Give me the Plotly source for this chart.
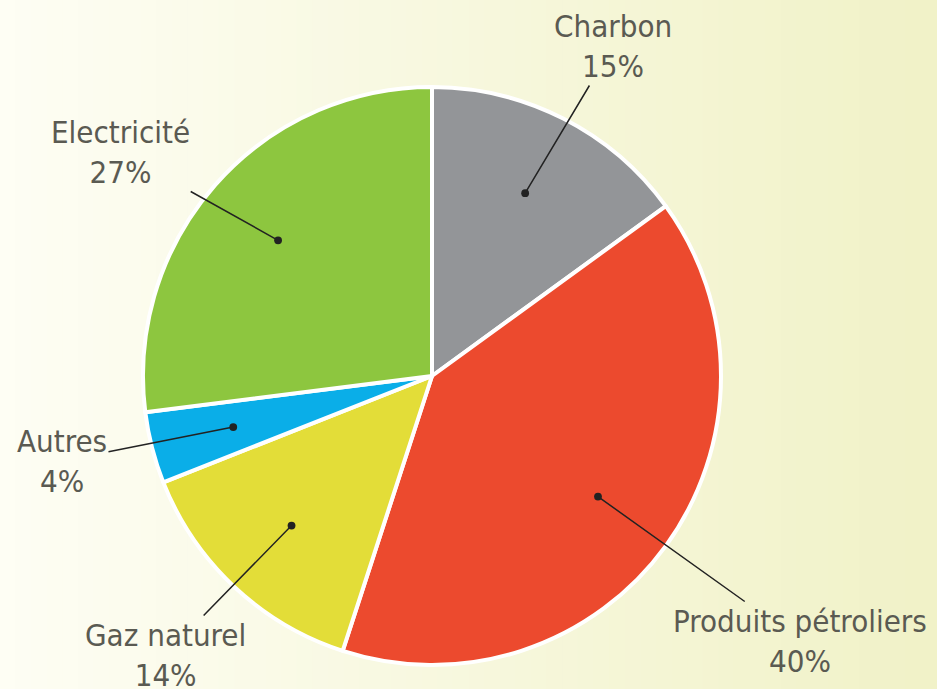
import numpy as np
import plotly.graph_objects as go

W, H = 937, 689

labels = ["Charbon", "Produits pétroliers", "Gaz naturel", "Autres", "Electricité"]
values = [15, 40, 14, 4, 27]
colors = ["#939598", "#ec4a2e", "#e3dd38", "#0aaee8", "#8dc63f"]

# label text centres (pixel layout positions)
label_x = [613, 800, 165, 62, 120]
label_y = [46, 641, 655, 461, 152]

# pie geometry (pixels)
cx, cy, R = 432, 376, 289
dot_frac = 0.71

fig = go.Figure()

fig.add_trace(go.Pie(
    labels=labels, values=values, sort=False, direction="clockwise", rotation=0,
    marker=dict(colors=colors, line=dict(color="white", width=4)),
    textinfo="none", hoverinfo="label+percent", showlegend=False,
    domain=dict(x=[(cx - R) / W, (cx + R) / W], y=[(H - cy - R) / H, (H - cy + R) / H]),
))

vals = np.array(values, dtype=float)
cum = np.cumsum(vals) - vals / 2
mid = cum / vals.sum() * 2 * np.pi
dot_x = cx + dot_frac * R * np.sin(mid)
dot_y = cy - dot_frac * R * np.cos(mid)

for lab, v, dx, dy, lx, ly in zip(labels, values, dot_x, dot_y, label_x, label_y):
    fig.add_annotation(
        x=dx, y=dy, xref="x", yref="y",
        ax=lx, ay=ly, axref="x", ayref="y",
        text=f"{lab}<br>{v}%", showarrow=True,
        arrowhead=6, arrowsize=1.3, arrowwidth=1.5, arrowcolor="#222222",
        font=dict(family="DejaVu Sans Condensed, DejaVu Sans, sans-serif", size=31, color="#5a5a52"),
        align="center",
    )

# background gradient (style)
n = 60
c0 = np.array([254, 254, 244])
c1 = np.array([241, 242, 200])
shapes = []
for i in range(n):
    t = i / (n - 1)
    c = (c0 + (c1 - c0) * t).astype(int)
    shapes.append(dict(type="rect", xref="paper", yref="paper",
                       x0=i / n, x1=(i + 1) / n + 0.002, y0=0, y1=1,
                       fillcolor=f"rgb({c[0]},{c[1]},{c[2]})", line=dict(width=0), layer="below"))

fig.update_layout(
    width=W, height=H, margin=dict(l=0, r=0, t=0, b=0),
    paper_bgcolor="#fbfbea", plot_bgcolor="rgba(0,0,0,0)",
    xaxis=dict(range=[0, W], visible=False, fixedrange=True),
    yaxis=dict(range=[H, 0], visible=False, fixedrange=True),
    shapes=shapes,
)

fig.write_html("out.html", config={"displayModeBar": False},
               post_script="document.body.style.margin='0';document.body.style.padding='0';")
